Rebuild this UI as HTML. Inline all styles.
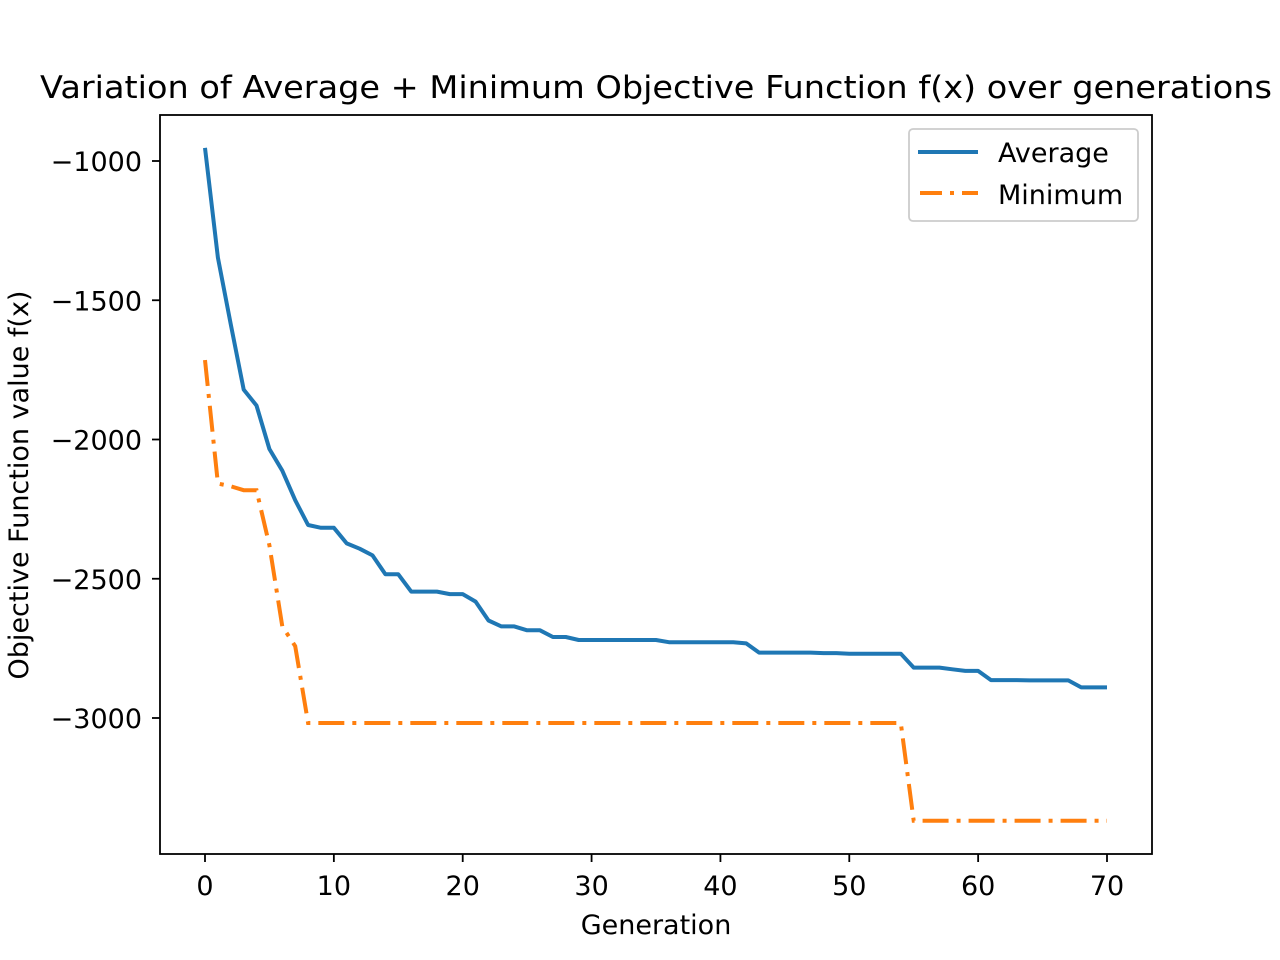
<!DOCTYPE html>
<html><head><meta charset="utf-8"><style>
html,body{margin:0;padding:0;background:#fff;}
svg{display:block;font-family:"DejaVu Sans","Liberation Sans",sans-serif;}
</style></head><body>
<svg id="chart" width="1280" height="960" viewBox="0 0 1280 960">
<rect x="0" y="0" width="1280" height="960" fill="#fff"/>
<text x="656" y="98" font-size="31" text-anchor="middle" textLength="1232" lengthAdjust="spacingAndGlyphs" fill="#000">Variation of Average + Minimum Objective Function f(x) over generations</text>
<g id="plot"></g>
<rect x="160" y="115" width="992" height="739" fill="none" stroke="#000" stroke-width="1.8"/>
<text x="656" y="934" font-size="27" text-anchor="middle">Generation</text>
<text transform="translate(28,485) rotate(-90)" font-size="27" text-anchor="middle">Objective Function value f(x)</text>
<g>
<rect x="909" y="129" width="229" height="92" rx="4" fill="#fff" stroke="#ccc" stroke-width="1.8"/>
<line x1="918" y1="152" x2="978" y2="152" stroke="#1f77b4" stroke-width="4"/>
<text x="998" y="162" font-size="27">Average</text>
<line x1="920" y1="193" x2="978" y2="193" stroke="#ff7f0e" stroke-width="4" stroke-dasharray="22,8,4,8"/>
<text x="998" y="204" font-size="27">Minimum</text>
</g>
</svg>
<script>
const xTicks = [0,10,20,30,40,50,60,70];
const yTicks = [-1000,-1500,-2000,-2500,-3000];
const avgValues = [-953,-1347,-1587,-1821,-1878,-2034,-2112,-2218,-2307,-2317,-2317,-2373,-2392,-2416,-2484,-2484,-2546,-2546,-2546,-2555,-2555,-2582,-2650,-2671,-2671,-2685,-2685,-2709,-2709,-2720,-2720,-2720,-2720,-2720,-2720,-2720,-2728,-2728,-2728,-2728,-2728,-2728,-2732,-2765,-2765,-2765,-2765,-2765,-2767,-2767,-2769,-2769,-2769,-2769,-2769,-2819,-2819,-2819,-2825,-2831,-2831,-2864,-2864,-2864,-2865,-2865,-2865,-2865,-2890,-2890,-2890];
const minValues = [-1715,-2158,-2168,-2182,-2182,-2380,-2671,-2742,-3018,-3018,-3018,-3018,-3018,-3018,-3018,-3018,-3018,-3018,-3018,-3018,-3018,-3018,-3018,-3018,-3018,-3018,-3018,-3018,-3018,-3018,-3018,-3018,-3018,-3018,-3018,-3018,-3018,-3018,-3018,-3018,-3018,-3018,-3018,-3018,-3018,-3018,-3018,-3018,-3018,-3018,-3018,-3018,-3018,-3018,-3018,-3369,-3369,-3369,-3369,-3369,-3369,-3369,-3369,-3369,-3369,-3369,-3369,-3369,-3369,-3369,-3369];
const NS = 'http://www.w3.org/2000/svg';
function xs(g){ return 205 + g * (1107 - 205) / 70; }
function ys(v){ return 161 + (-1000 - v) * (718 - 161) / 2000; }
const plot = document.getElementById('plot');
function mk(tag, attrs){ const e = document.createElementNS(NS, tag); for (const k in attrs) e.setAttribute(k, attrs[k]); plot.appendChild(e); return e; }
xTicks.forEach(t => {
  const l = mk('line', {x1: xs(t), x2: xs(t), y1: 854, y2: 862, stroke: '#000', 'stroke-width': 1.8});
  
  
  const tx = mk('text', {x: xs(t), y: 895, 'font-size': 27, 'text-anchor': 'middle'});
  tx.textContent = String(t);
  
  
});
yTicks.forEach(t => {
  const l = mk('line', {x1: 152, x2: 160, y1: ys(t), y2: ys(t), stroke: '#000', 'stroke-width': 1.8});
  
  
  const tx = mk('text', {x: 142, y: ys(t) + 10, 'font-size': 27, 'text-anchor': 'end'});
  tx.textContent = '\u2212' + Math.abs(t);
  
  
});
function pts(arr){ return arr.map((v, i) => xs(i).toFixed(1) + ',' + ys(v).toFixed(1)).join(' '); }
const minLine = mk('polyline', {points: pts(minValues), fill: 'none', stroke: '#ff7f0e', 'stroke-width': 4, 'stroke-dasharray': '26,8,4,8'});


const avgLine = mk('polyline', {points: pts(avgValues), fill: 'none', stroke: '#1f77b4', 'stroke-width': 4, 'stroke-linejoin': 'round'});


</script>
</body></html>
